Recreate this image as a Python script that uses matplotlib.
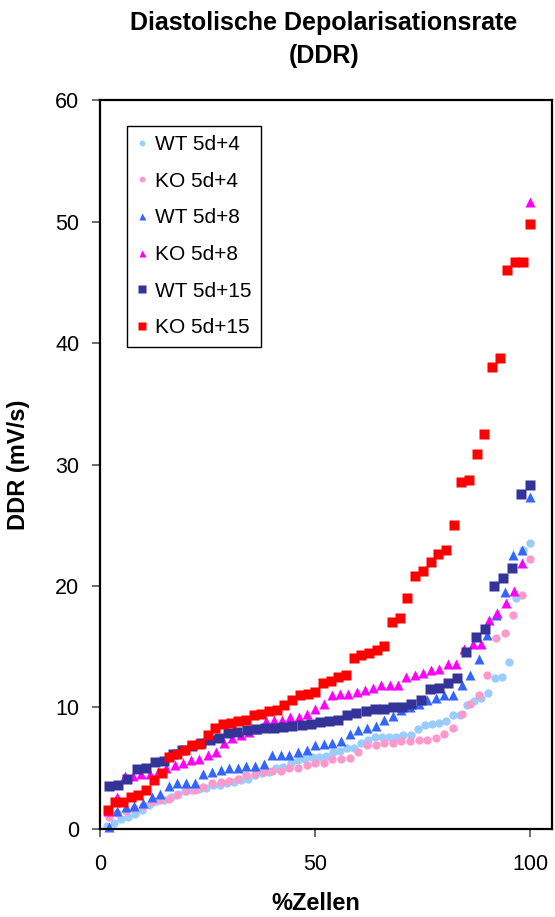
import numpy as np
import matplotlib
matplotlib.use("Agg")
import matplotlib.pyplot as plt

plt.rcParams['font.family'] = ['Liberation Sans', 'DejaVu Sans']

# sorted DDR values per group (mV/s); x is the cumulative % of cells
wt4 = [0.25, 0.5, 0.85, 1.0, 1.2, 1.6, 2.0, 2.3, 2.4, 2.6, 2.9, 3.1, 3.2, 3.3, 3.4,
       3.6, 3.65, 3.75, 3.9, 4.0, 4.1, 4.45, 4.6, 4.7, 5.0, 5.1, 5.4, 5.7, 5.8, 5.9,
       5.9, 6.0, 6.3, 6.45, 6.7, 6.7, 7.1, 7.3, 7.6, 7.6, 7.6, 7.6, 7.75, 7.75, 8.2,
       8.55, 8.6, 8.7, 8.9, 9.4, 9.4, 10.2, 10.5, 10.75, 11.2, 12.4, 12.5, 13.75,
       19.05, 22.95, 23.5]
ko4 = [1.0, 1.3, 1.5, 1.7, 1.9, 2.2, 2.4, 2.45, 2.8, 3.15, 3.2, 3.45, 3.8, 3.9, 3.95,
       4.15, 4.45, 4.55, 4.7, 4.75, 4.8, 5.0, 5.05, 5.3, 5.4, 5.45, 5.75, 5.8, 5.85,
       6.3, 6.9, 6.9, 7.1, 7.1, 7.25, 7.25, 7.35, 7.35, 7.45, 7.85, 8.35, 9.5, 10.3,
       11.0, 12.65, 15.75, 16.1, 17.6, 19.25, 22.2]
wt8 = [0.2, 1.5, 1.8, 1.9, 2.15, 2.65, 2.9, 3.55, 3.75, 3.75, 3.75, 4.5, 4.7, 4.85,
       5.0, 5.05, 5.2, 5.2, 5.35, 6.05, 6.05, 6.05, 6.35, 6.5, 6.9, 7.0, 7.1, 7.2,
       7.85, 8.15, 8.3, 8.5, 8.95, 9.3, 9.8, 10.05, 10.3, 10.6, 10.8, 11.0, 11.0,
       11.85, 12.7, 14.0, 16.0, 17.6, 19.5, 22.55, 23.0, 27.3]
ko8 = [1.5, 2.65, 4.35, 4.35, 4.5, 4.5, 4.7, 5.0, 5.3, 5.45, 5.7, 5.8, 6.1, 6.35,
       7.1, 7.45, 7.7, 8.0, 8.25, 8.85, 8.95, 9.0, 9.2, 9.2, 9.45, 9.9, 10.25, 11.0,
       11.15, 11.15, 11.3, 11.45, 11.6, 11.85, 11.85, 11.85, 12.5, 12.65, 12.8,
       13.1, 13.15, 13.6, 13.6, 14.85, 15.25, 15.25, 17.2, 17.75, 18.6, 19.55, 21.9,
       51.6]
wt15 = [3.5, 3.6, 4.1, 4.9, 5.05, 5.5, 5.6, 6.2, 6.5, 6.8, 7.05, 7.3, 7.45, 7.9,
        8.0, 8.15, 8.2, 8.3, 8.35, 8.4, 8.5, 8.55, 8.65, 8.8, 8.9, 9.0, 9.4, 9.55,
        9.7, 9.85, 9.9, 10.0, 10.05, 10.25, 10.6, 11.5, 11.6, 12.0, 12.4, 14.6,
        15.8, 16.5, 20.0, 20.65, 21.5, 27.6, 28.3]
ko15 = [1.6, 2.2, 2.25, 2.6, 2.8, 3.2, 4.0, 4.6, 5.9, 6.2, 6.5, 6.9, 7.0, 7.7, 8.3,
        8.6, 8.7, 8.9, 9.0, 9.4, 9.5, 9.7, 9.8, 10.2, 10.6, 11.0, 11.1, 11.3, 12.0,
        12.2, 12.5, 12.7, 14.1, 14.3, 14.45, 14.7, 15.1, 17.0, 17.4, 19.05, 20.8,
        21.2, 22.0, 22.6, 23.0, 25.0, 28.6, 28.7, 30.9, 32.5, 38.0, 38.8, 46.0, 46.7,
        46.7, 49.8]

labels = ['WT 5d+4', 'KO 5d+4', 'WT 5d+8', 'KO 5d+8', 'WT 5d+15', 'KO 5d+15']
series = [wt4, ko4, wt8, ko8, wt15, ko15]
colors = ['#99ccff', '#ff99cc', '#3366ff', '#ff00ff', '#333399', '#ff0000']
markers = ['o', 'o', '^', '^', 's', 's']
sizes = [6.0, 6.0, 7.2, 7.2, 7.6, 7.6]

fig = plt.figure(figsize=(5.55, 9.17), dpi=100)
ax = fig.add_axes([0.1802, 0.0960, 0.8144, 0.7949])

for vals, lab, c, m, ms in zip(series, labels, colors, markers, sizes):
    n = len(vals)
    x = 100.0 * np.arange(1, n + 1) / n
    ax.plot(x, vals, ls='none', marker=m, ms=ms, color=c, mec='none', label=lab,
            clip_on=False)

ax.set_xlim(0, 105)
ax.set_ylim(0, 60)
ax.set_xticks([0, 50, 100])
ax.set_yticks(range(0, 61, 10))
ax.tick_params(axis='both', which='major', direction='out', length=6, width=1.2,
               labelsize=15.5, color='#555555')
ax.tick_params(axis='x', which='major', pad=12)
ax.tick_params(axis='y', which='major', pad=9)
for sp in ax.spines.values():
    sp.set_linewidth(1.6)
    sp.set_color('black')

ax.set_xlabel('%Zellen', fontsize=17, fontweight='bold')
ax.xaxis.set_label_coords(0.478, -0.087)
ax.set_ylabel('DDR (mV/s)', fontsize=17, fontweight='bold')
ax.yaxis.set_label_coords(-0.155, 0.5)

fig.text(0.584, 0.988, 'Diastolische Depolarisationsrate\n(DDR)', ha='center',
         va='top', fontsize=18, fontweight='bold', linespacing=1.45)

leg = ax.legend(loc='upper left', bbox_to_anchor=(0.06, 0.965), fontsize=15,
                frameon=True, fancybox=False, edgecolor='black', framealpha=1,
                labelspacing=0.85, handletextpad=0.39, handlelength=0.5,
                markerscale=0.7, borderpad=0.45, borderaxespad=0)
leg.get_frame().set_linewidth(1.0)

fig.savefig('out.png', dpi=100)
